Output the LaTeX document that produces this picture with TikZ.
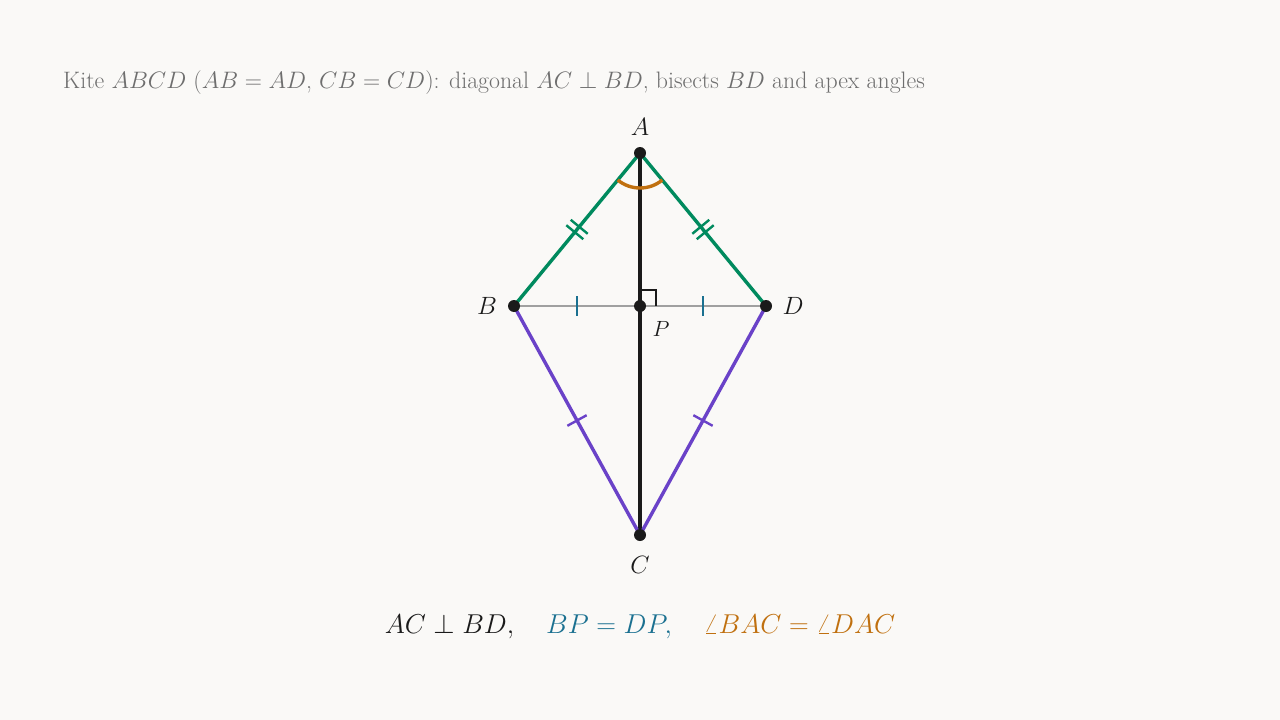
\documentclass[tikz,border=0pt]{standalone}
\usepackage{fix-cm}
\usetikzlibrary{calc}
\definecolor{bg}{HTML}{FAF9F7}
\definecolor{kgreen}{HTML}{008A5E}
\definecolor{kpurple}{HTML}{6A42C8}
\definecolor{korange}{HTML}{C0700F}
\definecolor{kblue}{HTML}{1A7090}
\definecolor{kgrey}{HTML}{6E6E6E}
\definecolor{kline}{HTML}{A0A0A0}
\definecolor{kblack}{HTML}{1A1A1A}
\begin{document}
\begin{tikzpicture}[x=1pt,y=-1pt,
  edgeg/.style={kgreen,line width=3.4pt},
  edgep/.style={kpurple,line width=3.4pt},
  tickg/.style={kgreen,line width=2.4pt},
  tickp/.style={kpurple,line width=2.4pt},
  tickb/.style={kblue,line width=2.4pt},
  vlabel/.style={font=\fontsize{25}{30}\selectfont,text=kblack,inner sep=0pt}]
\fill[bg] (0,0) rectangle (1280,720);
\useasboundingbox (0,0) rectangle (1280,720);
\coordinate (A) at (640,153);
\coordinate (B) at (514,306);
\coordinate (D) at (766,306);
\coordinate (C) at (640,535);
\coordinate (P) at (640,306);
% diagonals
\draw[kline,line width=2.4pt] (B) -- (D);
\draw[kblack,line width=3.4pt] (A) -- (C);
% sides
\draw[edgeg] (B) -- (A) -- (D);
\draw[edgep] (B) -- (C) -- (D);
% angle arc
\draw[korange,line width=3.4pt] ($(A)!35pt!(B)$) arc[start angle=230.5,end angle=309.5,radius=35pt];
% right angle mark
\draw[kblack,line width=2.2pt] ($(P)+(0,-16)$) -- ($(P)+(16,-16)$) -- ($(P)+(16,0)$);
% double ticks on AB, AD
\foreach \X/\Y in {A/B,A/D}{
  \coordinate (m) at ($(\X)!0.5!(\Y)$);
  \coordinate (m1) at ($(m)!3.5pt!(\X)$);
  \coordinate (m2) at ($(m)!3.5pt!(\Y)$);
  \draw[tickg] ($(m1)!11pt!90:(\X)$) -- ($(m1)!11pt!-90:(\X)$);
  \draw[tickg] ($(m2)!11pt!90:(\Y)$) -- ($(m2)!11pt!-90:(\Y)$);
}
% single ticks on BC, DC
\foreach \X/\Y in {B/C,D/C}{
  \coordinate (m) at ($(\X)!0.5!(\Y)$);
  \draw[tickp] ($(m)!11pt!90:(\Y)$) -- ($(m)!11pt!-90:(\Y)$);
}
% ticks on BP, PD
\foreach \X/\Y in {B/P,P/D}{
  \coordinate (m) at ($(\X)!0.5!(\Y)$);
  \draw[tickb] ($(m)+(0,-10)$) -- ($(m)+(0,10)$);
}
% dots
\foreach \p in {A,B,C,D,P}{\fill[kblack] (\p) circle[radius=6pt];}
% labels
\node[vlabel] (lA) at (640,127) {$A$};
\node[vlabel] (lB) at (487,306) {$B$};
\node[vlabel] (lD) at (793,306) {$D$};
\node[vlabel] (lC) at (640,565) {$C$};
\node[vlabel,font=\fontsize{22}{26}\selectfont] (lP) at (661,329) {$P$};
% title
\node[anchor=base west,inner sep=0pt,text=kgrey,font=\fontsize{23.8}{28}\selectfont] (title) at (63,88)
  {Kite $ABCD$ ($AB=AD$, $CB=CD$): diagonal $AC\perp BD$, bisects $BD$ and apex angles};
% equation
\node[anchor=base,inner sep=0pt,font=\fontsize{27.3}{32}\selectfont] (eq) at (640,633)
  {$\color{kblack}AC\perp BD,\quad \color{kblue}BP=DP,\quad \color{korange}\angle BAC=\angle DAC$};
\end{tikzpicture}
\end{document}
